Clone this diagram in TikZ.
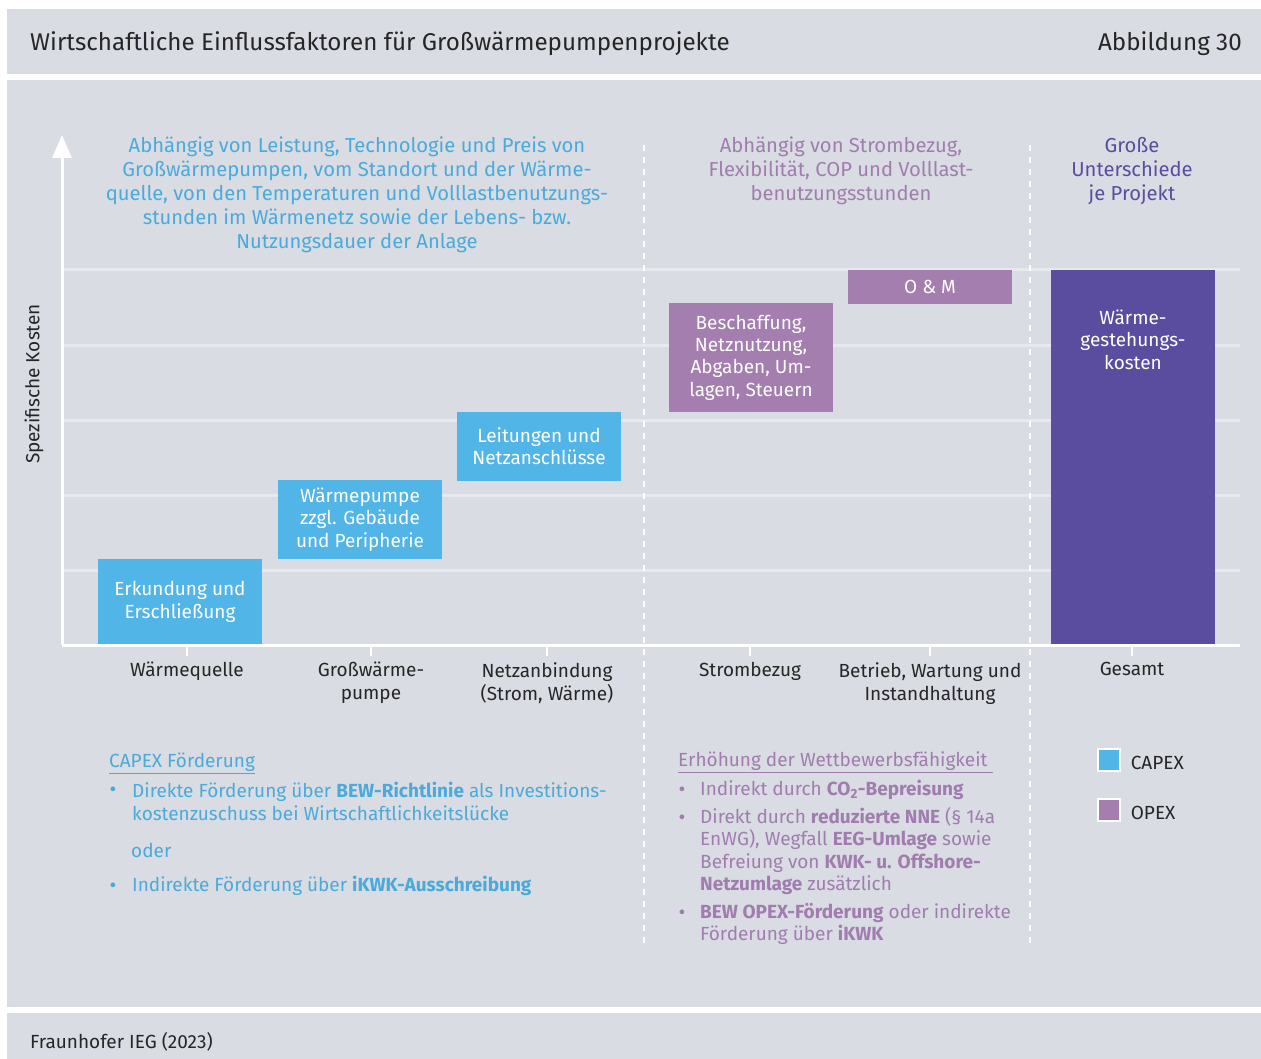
\documentclass[tikz,border=0pt]{standalone}
\usepackage{fontspec}
\setmainfont{Fira Sans}
\usepackage{tikz}
\usetikzlibrary{positioning,arrows.meta}
\definecolor{ieGray}{HTML}{D9DCE3}
\definecolor{ieGrid}{HTML}{E7E9EE}
\definecolor{ieBlue}{HTML}{52B5E8}
\definecolor{ieBlueTxt}{HTML}{4AAADA}
\definecolor{iePurple}{HTML}{A37EAF}
\definecolor{iePurpleTxt}{HTML}{A07DAE}
\definecolor{ieDark}{HTML}{5A4C9F}
\definecolor{ieText}{HTML}{262626}

\begin{document}
\begin{tikzpicture}[
  x=1pt, y=-1pt,
  txt/.style={font=\fontsize{19}{23}\selectfont, text=ieText, inner sep=0pt, align=center},
  note/.style={txt, font=\fontsize{20.2}{24}\selectfont},
  bar/.style={inner sep=0pt, minimum width=164pt, font=\fontsize{19}{22.4}\selectfont, text=white, align=center},
  capex/.style={bar, fill=ieBlue},
  opex/.style={bar, fill=iePurple},
  grid/.style={draw=ieGrid, line width=3pt},
  tick/.style={draw=white, line width=2.5pt},
  sep/.style={draw=white, line width=1.4pt, dash pattern=on 6pt off 6pt},
  bul/.style={txt, align=left, anchor=west},
  dot/.style={txt, anchor=base, font=\fontsize{21}{23}\selectfont},
  legbox/.style={draw=white, line width=1.2pt, minimum size=22pt, inner sep=0pt},
]
\useasboundingbox (0,0) rectangle (1261,1059);
% bands
\fill[ieGray] (7,9) rectangle (1261,74);
\fill[ieGray] (7,80) rectangle (1261,1007);
\fill[ieGray] (7,1013) rectangle (1261,1059);
\node[txt, font=\fontsize{24.2}{28}\selectfont, anchor=west] (title) at (30,44) {Wirtschaftliche Einflussfaktoren für Großwärmepumpenprojekte};
\node[txt, font=\fontsize{24.2}{28}\selectfont, anchor=east] (figno) at (1242,44) {Abbildung 30};
\node[txt, font=\fontsize{19}{22}\selectfont, anchor=west] (source) at (30,1042) {Fraunhofer IEG (2023)};

% grid and separators
\foreach \gy in {270,345,420,495,570}
  \draw[grid] (62,\gy) -- (1240,\gy);
\draw[sep] (644,145) -- (644,945);
\draw[sep] (1030,145) -- (1030,945);

% cost blocks
\node[capex, minimum height=86pt] (erk) at (180,602) {Erkundung und\\Erschließung};
\node[capex, minimum height=79pt] (wp) at (360,519.5) {Wärmepumpe\\zzgl. Gebäude\\und Peripherie};
\node[capex, minimum height=69pt] (ltg) at (539,446.5) {Leitungen und\\Netzanschlüsse};
\node[opex, minimum height=109pt] (bes) at (751,357.5) {Beschaffung,\\Netznutzung,\\Abgaben, Um-\\lagen, Steuern};
\node[opex, minimum height=34pt] (om) at (930,287) {O \& M};
\node[bar, fill=ieDark, minimum height=375pt] (ges) at (1133,457.5) {};
\node[bar, below=40pt of ges.north] (geslbl) {Wärme-\\gestehungs-\\kosten};

% axes
\coordinate (origin) at (62,645);
\coordinate (ytop) at (62,135);
\coordinate (xend) at (1240,645);
\draw[white, line width=3pt] (origin) -- (xend);
\draw[white, line width=3pt, -{Triangle[length=23pt, width=19pt]}] (origin) -- (ytop);
\node[txt, rotate=90] (ylbl) at (34,384) {Spezifische Kosten};

% categories
\foreach \cx/\name/\txt in {187/c1/Wärmequelle, 371/c2/{Großwärme-\\pumpe}, 547/c3/{Netzanbindung\\(Strom, Wärme)},
    750/c4/Strombezug, 930/c5/{Betrieb, Wartung und\\Instandhaltung}, 1132/c6/Gesamt} {
  \draw[tick] (\cx,645) -- (\cx,656);
  \node[txt, anchor=north] (\name) at (\cx,662) {\txt};
}

% notes on top
\node[note, text=ieBlueTxt] (capexnote) at (357,195)
  {Abhängig von Leistung, Technologie und Preis von\\Großwärmepumpen, vom Standort und der Wärme-\\quelle, von den Temperaturen und Volllastbenutzungs-\\stunden im Wärmenetz sowie der Lebens- bzw.\\Nutzungsdauer der Anlage};
\node[note, text=iePurpleTxt] (opexnote) at (841,171)
  {Abhängig von Strombezug,\\Flexibilität, COP und Volllast-\\benutzungsstunden};
\node[note, text=ieDark] (totalnote) at (1132,171)
  {Große\\Unterschiede\\je Projekt};

% funding, capex
\node[bul, text=ieBlueTxt] (capexhd) at (109,763) {\underline{CAPEX Förderung}};
\node[dot, text=ieBlueTxt] (cb1) at (113,796) {•};
\node[bul, text=ieBlueTxt] (ct1) at (132,801) {Direkte Förderung über \textbf{BEW-Richtlinie} als Investitions-\\kostenzuschuss bei Wirtschaftlichkeitslücke};
\node[bul, text=ieBlueTxt] (oder) at (131,850) {oder};
\node[dot, text=ieBlueTxt] (cb2) at (113,892) {•};
\node[bul, text=ieBlueTxt] (ct2) at (132,886) {Indirekte Förderung über \textbf{iKWK-Ausschreibung}};

% funding, opex
\node[bul, text=iePurpleTxt] (opexhd) at (678,762) {\underline{Erhöhung der Wettbewerbsfähigkeit\ }};
\node[dot, text=iePurpleTxt] (ob1) at (682,796) {•};
\node[bul, text=iePurpleTxt] (ot1) at (700,790) {Indirekt durch \textbf{CO\textsubscript{2}-Bepreisung}};
\node[dot, text=iePurpleTxt] (ob2) at (682,824) {•};
\node[bul, text=iePurpleTxt, font=\fontsize{19}{22.4}\selectfont] (ot2) at (700,851) {Direkt durch \textbf{reduzierte NNE} (§ 14a\\EnWG), Wegfall \textbf{EEG-Umlage} sowie\\Befreiung von \textbf{KWK- u. Offshore-}\\\textbf{Netzumlage} zusätzlich};
\node[dot, text=iePurpleTxt] (ob3) at (682,919) {•};
\node[bul, text=iePurpleTxt, font=\fontsize{19}{22}\selectfont] (ot3) at (700,924) {\textbf{BEW OPEX-Förderung} oder indirekte\\Förderung über \textbf{iKWK}};

% legend
\node[legbox, fill=ieBlue] (legc) at (1109,760) {};
\node[bul, right=10pt of legc, yshift=-3pt] (legctxt) {CAPEX};
\node[legbox, fill=iePurple] (lego) at (1109,810) {};
\node[bul, right=10pt of lego, yshift=-3pt] (legotxt) {OPEX};
\end{tikzpicture}
\end{document}
